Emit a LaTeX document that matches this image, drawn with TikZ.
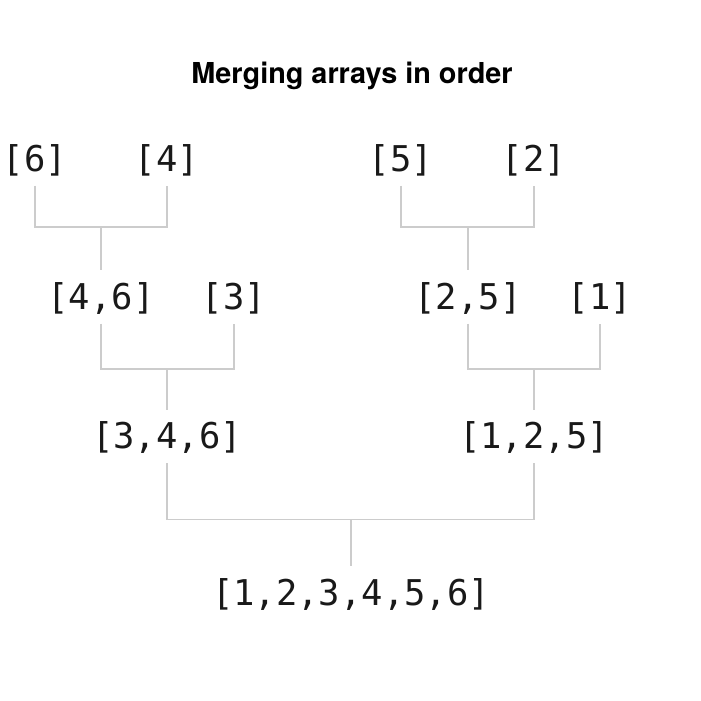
\documentclass[tikz,border=0pt]{standalone}
\usepackage{fontspec}
\usepackage{xcolor}
\usepackage{tikz}
\setsansfont{TeX Gyre Heros}
\setmonofont{DejaVu Sans Mono}

\begin{document}
\begin{tikzpicture}[
  arr/.style={font=\ttfamily\fontsize{10.1}{12}\selectfont, text=black!90,
    inner sep=0pt, minimum height=0.5cm},
  heading/.style={font=\sffamily\bfseries\fontsize{8.2}{10}\selectfont, anchor=base},
  link/.style={draw=black!20, line width=0.43pt},
  up/.style={link, shorten >=0.02cm}
]
  \useasboundingbox (0,0) rectangle (7.01,-7.01);
  \node[heading] (title) at (3.52,-0.83) {Merging arrays in order};

  % leaves
  \node[arr] (n6) at (0.35,-1.60) {[6]};
  \node[arr] (n4) at (1.67,-1.60) {[4]};
  \node[arr] (n5) at (4.01,-1.60) {[5]};
  \node[arr] (n2) at (5.34,-1.60) {[2]};

  % second level
  \node[arr] (n46) at (1.01,-2.98) {[4,6]};
  \node[arr] (n3)  at (2.34,-2.98) {[3]};
  \node[arr] (n25) at (4.68,-2.98) {[2,5]};
  \node[arr] (n1)  at (6.00,-2.98) {[1]};

  % third level
  \node[arr] (n346) at (1.67,-4.375) {[3,4,6]};
  \node[arr] (n125) at (5.34,-4.375) {[1,2,5]};

  % result
  \node[arr] (all) at (3.51,-5.94) {[1,2,3,4,5,6]};

  % junctions
  \coordinate (j1) at (1.01,-2.27);
  \coordinate (j2) at (4.68,-2.27);
  \coordinate (j3) at (1.67,-3.69);
  \coordinate (j4) at (5.34,-3.69);
  \coordinate (j5) at (3.51,-5.195);

  \draw[link] (n6.south) |- (j1) -| (n4.south);
  \draw[up] (j1) -- (n46.north);
  \draw[link] (n5.south) |- (j2) -| (n2.south);
  \draw[up] (j2) -- (n25.north);
  \draw[link] (n46.south) |- (j3) -| (n3.south);
  \draw[up] (j3) -- (n346.north);
  \draw[link] (n25.south) |- (j4) -| (n1.south);
  \draw[up] (j4) -- (n125.north);
  \draw[link] (n346.south) |- (j5) -| (n125.south);
  \draw[up] (j5) -- (all.north);
\end{tikzpicture}
\end{document}
